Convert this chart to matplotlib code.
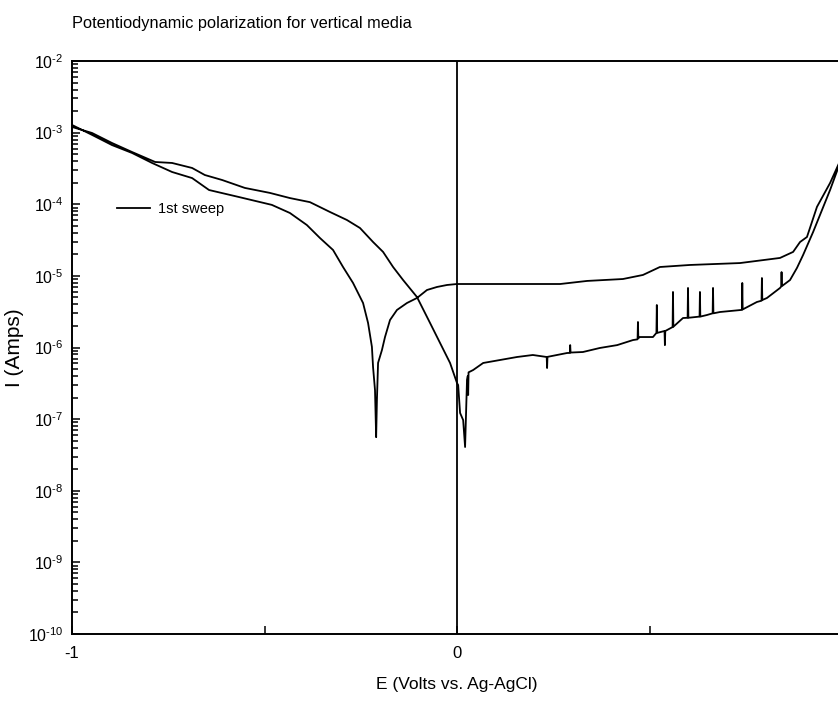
import matplotlib
matplotlib.use('Agg')
import matplotlib.pyplot as plt
from matplotlib.ticker import FixedLocator, FuncFormatter, NullFormatter
import numpy as np

plt.rcParams['font.family'] = ['Liberation Sans', 'DejaVu Sans']
plt.rcParams['mathtext.fontset'] = 'custom'
plt.rcParams['mathtext.rm'] = 'Liberation Sans'
plt.rcParams['mathtext.it'] = 'Liberation Sans'

# forward sweep, -1 V -> +1 V
e_fwd = [-1.000, -0.948, -0.896, -0.844, -0.792, -0.740, -0.688, -0.644, -0.566,
         -0.481, -0.434, -0.390, -0.356, -0.322, -0.296, -0.270, -0.244, -0.231,
         -0.221, -0.218, -0.213, -0.210, -0.208, -0.205, -0.195, -0.187, -0.174,
         -0.156, -0.130, -0.104, -0.078, -0.052, -0.026, 0.000, 0.268, 0.338,
         0.431, 0.483, 0.527, 0.605, 0.735, 0.839, 0.873, 0.891, 0.909, 0.935,
         0.969, 0.990, 1.000]
i_fwd = [1.28e-3, 9.3e-4, 6.7e-4, 5.2e-4, 3.77e-4, 2.82e-4, 2.32e-4, 1.58e-4, 1.26e-4,
         9.8e-5, 7.55e-5, 5.13e-5, 3.38e-5, 2.30e-5, 1.33e-5, 7.96e-6, 4.18e-6, 2.20e-6,
         1.02e-6, 5.3e-7, 2.55e-7, 5.6e-8, 1.85e-7, 6.1e-7, 9.2e-7, 1.40e-6, 2.42e-6,
         3.34e-6, 4.18e-6, 4.91e-6, 6.35e-6, 7.0e-6, 7.46e-6, 7.7e-6, 7.7e-6, 8.5e-6,
         9.04e-6, 1.03e-5, 1.33e-5, 1.42e-5, 1.51e-5, 1.78e-5, 2.16e-5, 2.97e-5, 3.49e-5,
         9.2e-5, 1.98e-4, 3.53e-4, 4.57e-4]

# reverse sweep, +1 V -> -1 V (noise spikes kept as narrow triplets)
e_rev = [1.000, 0.990, 0.969, 0.948, 0.925, 0.899, 0.883, 0.865,
         0.844, 0.843, 0.842, 0.839, 0.805,
         0.793, 0.792, 0.791, 0.779,
         0.742, 0.741, 0.740, 0.683,
         0.666, 0.665, 0.664, 0.649,
         0.632, 0.631, 0.630,
         0.601, 0.600, 0.599, 0.587,
         0.562, 0.561, 0.560,
         0.541, 0.540, 0.539,
         0.520, 0.519, 0.518, 0.509, 0.475,
         0.471, 0.470, 0.469, 0.457, 0.416, 0.371, 0.327,
         0.295, 0.294, 0.293, 0.286,
         0.235, 0.234, 0.233, 0.197, 0.156, 0.112, 0.068, 0.042,
         0.030, 0.029, 0.028, 0.026, 0.021, 0.016, 0.008, 0.003, 0.000,
         -0.018, -0.044, -0.070, -0.104, -0.140, -0.166, -0.192, -0.218, -0.252,
         -0.286, -0.330, -0.382, -0.434, -0.486, -0.551, -0.610, -0.655, -0.688,
         -0.740, -0.784, -0.844, -0.896, -0.948, -1.000]
i_rev = [4.57e-4, 3.21e-4, 1.58e-4, 8.3e-5, 4.10e-5, 1.96e-5, 1.29e-5, 8.75e-6,
         7.2e-6, 1.13e-5, 7.1e-6, 6.78e-6, 4.91e-6,
         4.6e-6, 9.33e-6, 4.5e-6, 4.32e-6,
         3.4e-6, 7.96e-6, 3.35e-6, 3.13e-6,
         3.0e-6, 6.78e-6, 3.0e-6, 2.84e-6,
         2.7e-6, 5.96e-6, 2.7e-6,
         2.6e-6, 6.78e-6, 2.6e-6, 2.58e-6,
         1.95e-6, 5.96e-6, 1.93e-6,
         1.7e-6, 1.08e-6, 1.7e-6,
         1.6e-6, 3.92e-6, 1.6e-6, 1.40e-6, 1.40e-6,
         1.35e-6, 2.27e-6, 1.3e-6, 1.27e-6, 1.08e-6, 9.85e-7, 8.65e-7,
         8.5e-7, 1.08e-6, 8.4e-7, 8.38e-7,
         7.4e-7, 5.17e-7, 7.37e-7, 7.86e-7, 7.37e-7, 6.69e-7, 6.08e-7, 4.85e-7,
         4.5e-7, 2.17e-7, 4.0e-7, 3.52e-7, 4.08e-8, 9.7e-8, 1.22e-7, 2.99e-7, 3.19e-7,
         6.08e-7, 1.16e-6, 2.20e-6, 5.07e-6, 8.75e-6, 1.33e-5, 2.16e-5, 2.97e-5, 4.66e-5,
         6.03e-5, 7.80e-5, 1.07e-4, 1.22e-4, 1.44e-4, 1.69e-4, 2.18e-4, 2.56e-4, 3.21e-4,
         3.77e-4, 3.89e-4, 5.36e-4, 7.16e-4, 9.89e-4, 1.20e-3]

decades = [-10, -9, -8, -7, -6, -5, -4, -3, -2]

E = e_fwd + e_rev[1:]
I = i_fwd + i_rev[1:]

fig = plt.figure(figsize=(8.38, 7.02), dpi=100)
ax = fig.add_axes([72 / 838, 68 / 702, 770 / 838, 573 / 702])

ax.plot(E, I, color='black', lw=1.3, label='1st sweep')
ax.axvline(0, color='black', lw=1.3)

ax.set_yscale('log')
ax.set_xlim(-1, 1)
ax.set_ylim(1e-10, 1e-2)

ax.yaxis.set_major_locator(FixedLocator([10.0 ** d for d in decades]))
ax.yaxis.set_minor_locator(FixedLocator([k * 10.0 ** d for d in decades[:-1] for k in range(2, 10)]))
ax.yaxis.set_minor_formatter(NullFormatter())
ax.yaxis.set_major_formatter(FuncFormatter(lambda v, p: r'10$^{\text{%d}}$' % round(np.log10(v))))
ax.xaxis.set_major_locator(FixedLocator([-1, 0, 1]))
ax.xaxis.set_minor_locator(FixedLocator([-0.5, 0.5]))
# the "1" label falls outside the picture, as in the original export
ax.xaxis.set_major_formatter(FuncFormatter(lambda v, p: '%d' % v if v < 1 else ''))

ax.tick_params(axis='both', which='both', direction='in', width=1.1, colors='black')
ax.tick_params(axis='y', which='major', length=6, labelsize=11.5, pad=6)
ax.tick_params(axis='y', which='minor', length=4.5)
ax.tick_params(axis='x', which='both', length=6, labelsize=12, pad=9)
ax.tick_params(right=False, top=False, which='both')
for s in ax.spines.values():
    s.set_linewidth(1.4)

ax.set_xlabel('E (Volts vs. Ag-AgCl)', fontsize=12.5, labelpad=11)
ax.set_ylabel('I (Amps)', fontsize=15, labelpad=3)
ax.set_title('Potentiodynamic polarization for vertical media', loc='left',
             fontsize=11.8, pad=24)

ax.legend(loc='center left', bbox_to_anchor=(0.058, 0.742), frameon=False,
          fontsize=10.5, handlelength=2.3, handletextpad=0.55, borderpad=0,
          borderaxespad=0)

fig.savefig('out.png', dpi=100)
